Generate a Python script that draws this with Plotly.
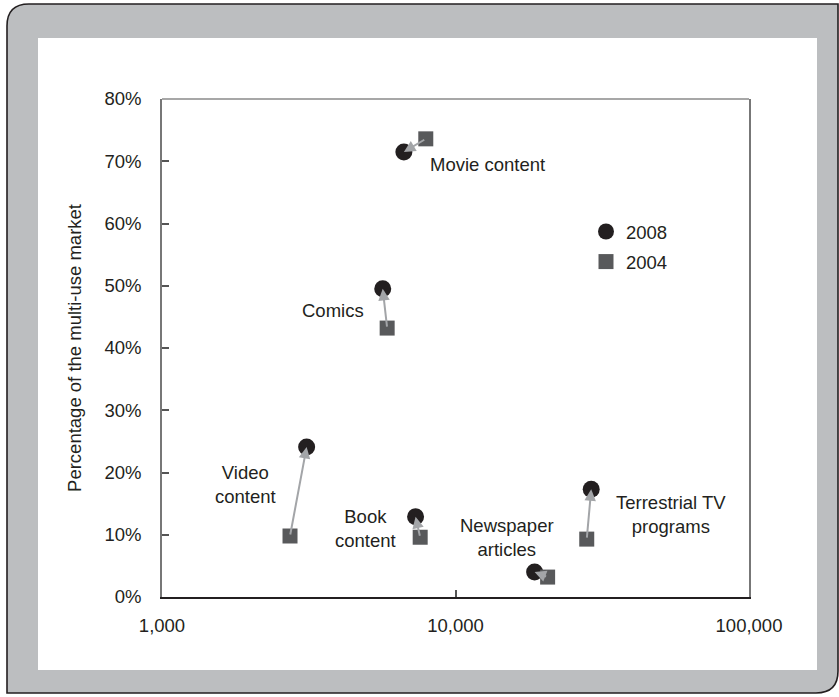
import math
import plotly.graph_objects as go

# ---- data ----
categories = ["Movie content", "Comics", "Video content", "Book content",
              "Newspaper articles", "Terrestrial TV programs"]
label_text = ["Movie content", "Comics", "Video<br>content", "Book<br>content",
              "Newspaper<br>articles", "Terrestrial TV<br>programs"]
x_2008 = [6670, 5650, 3110, 7310, 18600, 29000]
y_2008 = [0.715, 0.495, 0.241, 0.129, 0.040, 0.173]
x_2004 = [7920, 5850, 2730, 7580, 20600, 28000]
y_2004 = [0.736, 0.432, 0.098, 0.096, 0.032, 0.093]
x_ticks = [1000, 10000, 100000]
x_ticklabels = ["1,000", "10,000", "100,000"]
y_ticks = [0, 0.1, 0.2, 0.3, 0.4, 0.5, 0.6, 0.7, 0.8]
y_ticklabels = ["0%", "10%", "20%", "30%", "40%", "50%", "60%", "70%", "80%"]

# ---- layout geometry (pixels) ----
W, H = 839, 697
ML, MR, MT, MB = 162, 90, 99, 100
PW, PH = W - ML - MR, H - MT - MB


def px(xp):
    return (xp - ML) / PW


def py(yp):
    return (H - MB - yp) / PH


FONT = "Liberation Sans, Arial, Helvetica, sans-serif"
TXT = "#231f20"
FS = 18.5

# label offsets (px) relative to the 2008 point: (xshift, yshift, xanchor, align)
label_pos = [
    (24, -13, "left", "left"),
    (-17, -22, "right", "right"),
    (-29, -38, "right", "center"),
    (-18, -12, "right", "center"),
    (-28, 35, "center", "center"),
    (80, -25, "center", "center"),
]

fig = go.Figure()
fig.add_trace(go.Scatter(
    x=x_2008, y=y_2008, mode="markers", name="2008", legendgroup="a",
    marker=dict(symbol="circle", size=17, color="#231f20", line=dict(width=0)),
    hoverinfo="skip"))
fig.add_trace(go.Scatter(
    x=x_2004, y=y_2004, mode="markers", name="2004", legendgroup="b",
    marker=dict(symbol="square", size=15, color="#58595b", line=dict(width=0)),
    hoverinfo="skip"))

annotations = []
for i in range(len(categories)):
    annotations.append(dict(
        x=math.log10(x_2008[i]), y=y_2008[i], xref="x", yref="y",
        ax=math.log10(x_2004[i]), ay=y_2004[i], axref="x", ayref="y",
        showarrow=True, arrowhead=2, arrowsize=1.15, arrowwidth=2,
        arrowcolor="#a3a5a8", standoff=0, startstandoff=0, text=""))
for i, t in enumerate(label_text):
    xs, ys, xa, al = label_pos[i]
    annotations.append(dict(
        x=math.log10(x_2008[i]), y=y_2008[i], xref="x", yref="y",
        text=t, showarrow=False, xshift=xs, yshift=ys, xanchor=xa,
        yanchor="middle", align=al, font=dict(size=FS, color=TXT, family=FONT)))

R = 22
ox0, oy0, ox1, oy1 = 7, 4, 838, 693
path = (f"M {px(ox0)},{py(oy0 + R)} Q {px(ox0)},{py(oy0)} {px(ox0 + R)},{py(oy0)} "
        f"L {px(ox1)},{py(oy0)} L {px(ox1)},{py(oy1 - R)} "
        f"Q {px(ox1)},{py(oy1)} {px(ox1 - R)},{py(oy1)} "
        f"L {px(ox0)},{py(oy1)} Z")
shapes = [
    dict(type="path", path=path, xref="paper", yref="paper",
         fillcolor="#bcbec0", line=dict(color="#231f20", width=1.6), layer="below"),
    dict(type="rect", xref="paper", yref="paper",
         x0=px(38), x1=px(817), y0=py(670), y1=py(38),
         fillcolor="white", line=dict(width=0), layer="below"),
    dict(type="line", xref="paper", yref="paper", x0=0, x1=1, y0=1, y1=1,
         line=dict(color="#8a8a8a", width=1.5)),
]

fig.update_layout(
    width=W, height=H,
    margin=dict(l=ML, r=MR, t=MT, b=MB, pad=0),
    paper_bgcolor="white", plot_bgcolor="rgba(0,0,0,0)",
    font=dict(family=FONT, size=FS, color=TXT),
    showlegend=True,
    legend=dict(x=px(586), y=py(213), xanchor="left", yanchor="top",
                bgcolor="rgba(0,0,0,0)", font=dict(size=FS, color=TXT),
                tracegroupgap=3, itemclick=False),
    xaxis=dict(type="log", range=[3, 5], tickvals=x_ticks, ticktext=x_ticklabels,
               showgrid=False, zeroline=False, showline=True, linecolor="#231f20",
               linewidth=2, ticks="inside", ticklen=7, tickcolor="#555555",
               tickwidth=1.5, ticklabelstandoff=11,
               tickfont=dict(size=FS, color=TXT, family=FONT)),
    yaxis=dict(range=[0, 0.8], tickvals=y_ticks, ticktext=y_ticklabels,
               showgrid=False, zeroline=False, showline=True, linecolor="#777777",
               linewidth=1.5, mirror=True, ticks="inside", ticklen=7,
               tickcolor="#555555", tickwidth=1.5, ticklabelstandoff=15,
               tickfont=dict(size=FS, color=TXT, family=FONT),
               title=dict(text="Percentage of the multi-use market", standoff=18,
                          font=dict(size=FS, color=TXT, family=FONT))),
    annotations=annotations, shapes=shapes,
)

fig.write_html("out.html")
